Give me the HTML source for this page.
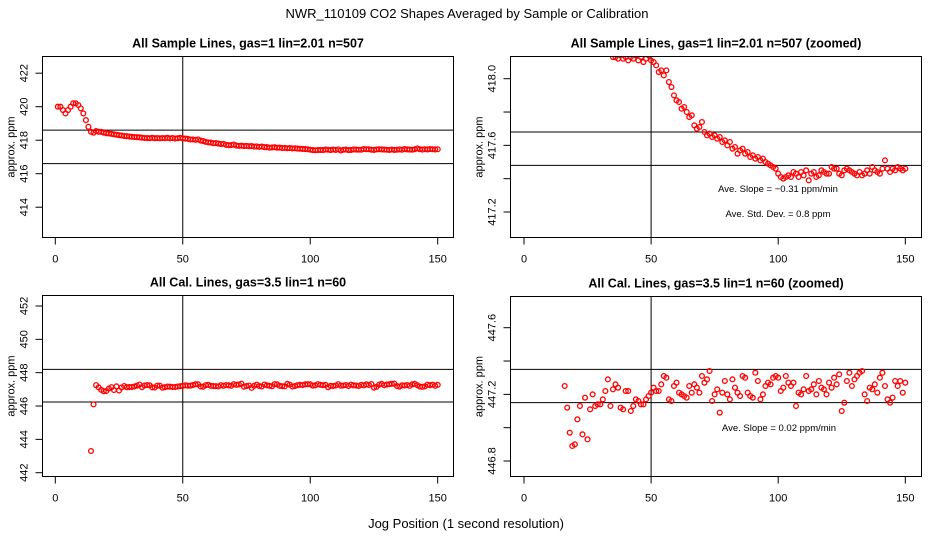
<!DOCTYPE html>
<html><head><meta charset="utf-8"><style>
html,body{margin:0;padding:0;background:#fff;width:936px;height:540px;overflow:hidden;position:relative;}
svg{display:block;position:absolute;left:0;top:0;font-family:"Liberation Sans",Arial,sans-serif;}
</style></head><body><svg id="chart" width="936" height="540" viewBox="0 0 936 540">
<text x="467" y="18" text-anchor="middle" font-size="13">NWR_110109  CO2 Shapes Averaged by Sample or Calibration</text>
<text x="466" y="528" text-anchor="middle" font-size="13">Jog Position (1 second resolution)</text>
</svg><script>
// Sample series: x = 1..150
const sampleValues = [
420.0,420.0,419.8,419.6,419.8,420.0,420.2,420.2,420.1,419.9,419.6,419.2,418.8,418.5,418.45,
418.55,418.5,418.5,418.45,418.42,418.4,418.38,418.35,418.33,418.3,418.28,418.25,418.24,418.22,418.2,
418.19,418.18,418.17,418.15,418.13,418.13,418.12,418.14,418.12,418.13,418.11,418.13,418.12,418.14,418.11,
418.13,418.10,418.12,418.14,418.11,418.10,418.08,418.04,418.05,418.02,418.05,417.98,417.95,417.90,417.87,
417.86,417.82,417.83,417.80,417.77,417.78,417.72,417.70,417.71,417.74,417.68,417.66,417.67,417.65,417.66,
417.64,417.65,417.62,417.63,417.60,417.62,417.58,417.59,417.55,417.57,417.58,417.55,417.56,417.53,417.54,
417.52,417.53,417.51,417.52,417.50,417.49,417.48,417.47,417.46,417.43,417.41,417.40,417.41,417.42,417.41,
417.44,417.43,417.41,417.44,417.42,417.45,417.39,417.43,417.44,417.41,417.42,417.45,417.44,417.43,417.43,
417.47,417.46,417.46,417.43,417.42,417.45,417.46,417.45,417.44,417.43,417.42,417.44,417.42,417.43,417.45,
417.43,417.47,417.45,417.44,417.43,417.46,417.51,417.46,417.44,417.46,417.45,417.47,417.46,417.45,417.46];
const sampleStart = 1;
// Calibration series: x = 14..150
const calValues = [
443.3,446.1,447.25,447.12,446.97,446.89,446.90,447.05,447.13,446.96,447.18,446.93,447.11,447.20,447.13,447.14,447.14,
447.17,447.22,447.29,447.13,447.23,447.26,447.24,447.12,447.11,447.22,447.22,447.10,447.13,447.17,447.16,447.14,
447.14,447.17,447.19,447.21,447.24,447.22,447.22,447.26,447.31,447.30,447.17,447.16,447.25,447.27,447.21,447.20,
447.19,447.18,447.25,447.21,447.26,447.24,447.21,447.31,447.27,447.29,447.34,447.16,447.20,447.23,447.09,447.21,
447.28,447.20,447.17,447.29,447.24,447.21,447.19,447.31,447.30,447.21,447.19,447.18,447.33,447.28,447.17,447.20,
447.25,447.27,447.26,447.30,447.31,447.30,447.22,447.24,447.31,447.27,447.25,447.27,447.13,447.21,447.20,447.23,
447.31,447.22,447.23,447.26,447.20,447.28,447.24,447.23,447.20,447.27,447.24,447.30,447.26,447.32,447.10,447.15,
447.28,447.33,447.25,447.29,447.31,447.33,447.34,447.20,447.16,447.24,447.23,447.26,447.21,447.30,447.33,447.25,
447.17,447.15,447.18,447.28,447.25,447.28,447.21,447.27];
const calStart = 14;
const xTicks = [0, 50, 100, 150];
const ticks1 = [414, 416, 418, 420, 422];
const ticks2 = [417.2, 417.4, 417.6, 417.8, 418.0];
const labels2 = ["417.2", "", "417.6", "", "418.0"];
const ticks3 = [442, 444, 446, 448, 450, 452];
const ticks4 = [446.8, 447.0, 447.2, 447.4, 447.6];
const labels4 = ["446.8", "", "447.2", "", "447.6"];
const hLines1 = [418.6, 416.6];
const hLines2 = [417.68, 417.48];
const hLines3 = [448.2, 446.24];
const hLines4 = [447.35, 447.15];

const NS = "http://www.w3.org/2000/svg";
const svg = document.getElementById("chart");
function mk(tag, attrs, parent) {
  const e = document.createElementNS(NS, tag);
  for (const k in attrs) e.setAttribute(k, attrs[k]);
  (parent || svg).appendChild(e);
  return e;
}
let clipId = 0;
function panel(cfg) {
  const g = mk("g", {});
  
  
  const L = cfg.box[0], T = cfg.box[1], R = cfg.box[2], B = cfg.box[3];
  const xs = v => cfg.x0 + (v - 0) * (cfg.x150 - cfg.x0) / 150;
  const ys = v => cfg.yA + (v - cfg.vA) * (cfg.yB - cfg.yA) / (cfg.vB - cfg.vA);
  const t = mk("text", {x: (L + R) / 2, y: T - 9, "text-anchor": "middle", "font-size": 12.5, "font-weight": "bold"}, g);
  t.textContent = cfg.title;
  
  
  xTicks.forEach(v => {
    const tk = mk("line", {x1: xs(v), x2: xs(v), y1: B, y2: B + 7, stroke: "#000"}, g);
    
    
    const tl = mk("text", {x: xs(v), y: B + 25, "text-anchor": "middle", "font-size": 11}, g);
    tl.textContent = v;
    
    
  });
  cfg.yTicks.forEach((v, i) => {
    const y = ys(v);
    const tk = mk("line", {x1: L - 7, x2: L, y1: y, y2: y, stroke: "#000"}, g);
    
    
    const lab = cfg.yLabels ? cfg.yLabels[i] : String(v);
    if (lab) {
      const tl = mk("text", {x: 0, y: 0, "text-anchor": "middle", "font-size": 11,
        transform: "translate(" + (L - 15) + "," + y + ") rotate(-90)"}, g);
      tl.textContent = lab;
      
      
    }
  });
  const yl = mk("text", {x: 0, y: 0, "text-anchor": "middle", "font-size": 11,
    transform: "translate(" + (L - 28) + "," + ((T + B) / 2) + ") rotate(-90)"}, g);
  yl.textContent = "approx. ppm";
  
  
  const id = "clip" + (clipId++);
  const cp = mk("clipPath", {id: id}, g);
  mk("rect", {x: L, y: T, width: R - L, height: B - T}, cp);
  const pg = mk("g", {"clip-path": "url(#" + id + ")"}, g);
  cfg.hLines.forEach(v => {
    const hl = mk("line", {x1: L, x2: R, y1: ys(v), y2: ys(v), stroke: "#000", "stroke-width": 1}, pg);
    
    
  });
  const vl = mk("line", {x1: xs(50), x2: xs(50), y1: T, y2: B, stroke: "#000"}, pg);
  
  
  cfg.values.forEach((v, i) => {
    const c = mk("circle", {cx: xs(cfg.start + i), cy: ys(v), r: 2.4, fill: "none", stroke: "#f00", "stroke-width": 1.3}, pg);
    
    
  });
  const box = mk("rect", {x: L, y: T, width: R - L, height: B - T, fill: "none", stroke: "#000", "stroke-width": 1}, g);
  
  
  (cfg.notes || []).forEach(n => {
    const nt = mk("text", {x: n[0], y: n[1], "text-anchor": "middle", "font-size": 9.5}, g);
    nt.textContent = n[2];
    
    
  });
}
panel({name: "sample-panel", title: "All Sample Lines, gas=1 lin=2.01 n=507", box: [42.5, 56.5, 453.5, 237.5],
  x0: 55.3, x150: 437.7, vA: 420, yA: 106.7, vB: 416, yB: 173.7, yTicks: ticks1,
  hLines: hLines1, values: sampleValues, start: sampleStart});
panel({name: "sample-zoomed-panel", title: "All Sample Lines, gas=1 lin=2.01 n=507 (zoomed)", box: [510.5, 56.5, 921.5, 237.5],
  x0: 524, x150: 905.3, vA: 418.0, yA: 78.7, vB: 417.2, yB: 212, yTicks: ticks2, yLabels: labels2,
  hLines: hLines2, values: sampleValues, start: sampleStart,
  notes: [[778, 192, "Ave. Slope =  \u22120.31  ppm/min"], [778, 217, "Ave. Std. Dev. =  0.8  ppm"]]});
panel({name: "cal-panel", title: "All Cal. Lines, gas=3.5 lin=1 n=60", box: [42.5, 295.5, 453.5, 476.5],
  x0: 55.3, x150: 437.7, vA: 452, yA: 306, vB: 442, yB: 472.7, yTicks: ticks3,
  hLines: hLines3, values: calValues, start: calStart});
panel({name: "cal-zoomed-panel", title: "All Cal. Lines, gas=3.5 lin=1 n=60 (zoomed)", box: [510.5, 296.5, 921.5, 476.5],
  x0: 524, x150: 905.3, vA: 447.6, yA: 327.7, vB: 446.8, yB: 461, yTicks: ticks4, yLabels: labels4,
  hLines: hLines4, values: calValues, start: calStart,
  notes: [[779, 431, "Ave. Slope =  0.02  ppm/min"]]});
</script></body></html>
